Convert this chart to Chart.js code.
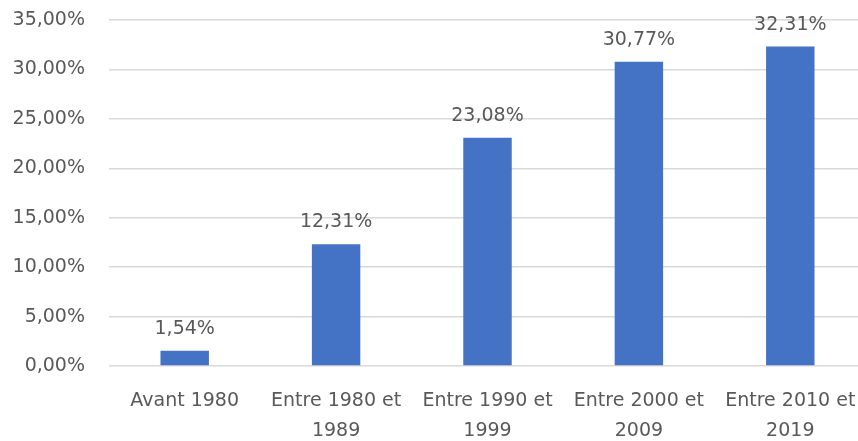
<!DOCTYPE html>
<html>
<head>
<meta charset="utf-8">
<script src="https://cdn.jsdelivr.net/npm/chart.js@4/dist/chart.umd.min.js"></script>
<style>
  html, body { margin: 0; padding: 0; background: #fff; overflow: hidden; }
  #wrap { width: 870px; height: 441px; }
</style>
</head>
<body>
<div id="wrap"><canvas id="chart"></canvas></div>
<script>
// ---------- DATA ----------
const categories = [
  "Avant 1980",
  ["Entre 1980 et", "1989"],
  ["Entre 1990 et", "1999"],
  ["Entre 2000 et", "2009"],
  ["Entre 2010 et", "2019"]
];
const shares = [1.54, 12.31, 23.08, 30.77, 32.31];
const yTicks = [0, 5, 10, 15, 20, 25, 30, 35];

const textColor = "#595959";
const font = { family: "DejaVu Sans", size: 19 };

function fr(v) {
  return v.toFixed(2).replace(".", ",") + "%";
}

// ---------- VALUE LABELS ----------
const valueLabels = {
  id: "valueLabels",
  afterDatasetsDraw(chart) {
    const ctx = chart.ctx;
    const meta = chart.getDatasetMeta(0);
    ctx.save();
    ctx.font = `${font.size}px ${font.family}`;
    ctx.fillStyle = textColor;
    ctx.textAlign = "center";
    ctx.textBaseline = "alphabetic";
    meta.data.forEach((bar, i) => {
      ctx.fillText(fr(shares[i]), bar.x, bar.y - 17);
    });
    ctx.restore();
  }
};

// ---------- CHART ----------
new Chart(document.getElementById("chart"), {
  type: "bar",
  data: {
    labels: categories,
    datasets: [{
      data: shares,
      backgroundColor: "#4472c4",
      barPercentage: 0.32,
      categoryPercentage: 1
    }]
  },
  options: {
    responsive: true,
    maintainAspectRatio: false,
    animation: false,
    layout: { padding: { top: 20, right: 4, left: 0, bottom: 0 } },
    plugins: { legend: { display: false }, tooltip: { enabled: false } },
    scales: {
      x: {
        grid: { display: false },
        border: { display: false },
        ticks: { color: textColor, font: { ...font, lineHeight: 1.58 }, padding: 12, maxRotation: 0 },
        afterFit(scale) { scale.height = 75; }
      },
      y: {
        min: 0,
        max: 35,
        afterBuildTicks(scale) { scale.ticks = yTicks.map(v => ({ value: v })); },
        grid: { color: "#d9d9d9", lineWidth: 1.5, drawTicks: false },
        border: { display: false },
        ticks: { color: textColor, font: font, padding: 24, callback: v => fr(v) },
        afterFit(scale) {
          scale.width = 109;
          scale.paddingTop = 0;
          scale.paddingBottom = 0;
        }
      }
    }
  },
  plugins: [valueLabels]
});
</script>
</body>
</html>
